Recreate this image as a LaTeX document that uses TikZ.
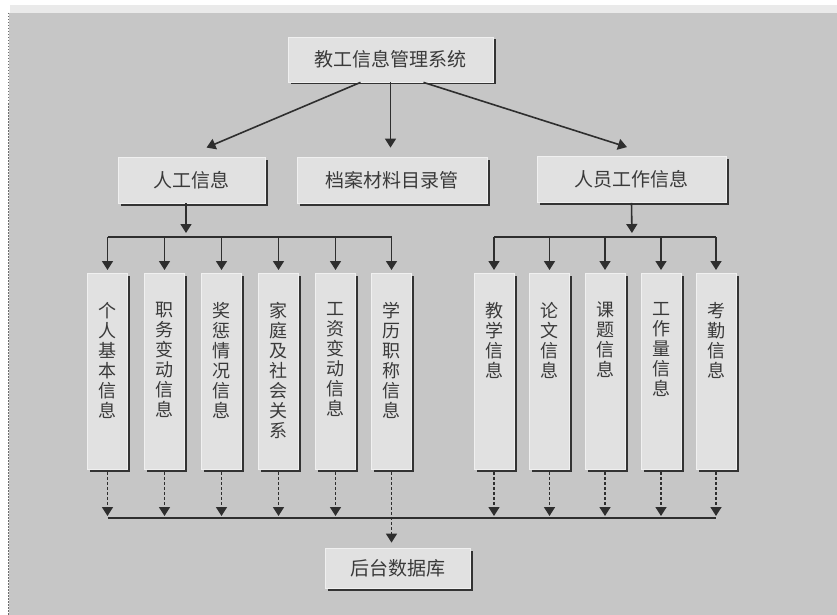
\documentclass[tikz,border=0pt]{standalone}
\usepackage{fontspec}
\setmainfont{Noto Sans CJK SC}
\usetikzlibrary{arrows.meta,shadows,calc}
\definecolor{bg}{HTML}{C6C6C6}
\definecolor{strip}{HTML}{EAEAEA}
\definecolor{boxfill}{HTML}{E1E1E1}
\definecolor{boxedge}{HTML}{F0F0F0}
\definecolor{shade}{HTML}{333333}
\definecolor{lin}{HTML}{2E2E2E}
\definecolor{txt}{HTML}{3A3A3A}
\begin{document}
\begin{tikzpicture}[x=1pt,y=-1pt,
  box/.style={draw=boxedge, line width=0.8pt, fill=boxfill, inner sep=0pt,
    general shadow={fill=shade, shadow xshift=2.5pt, shadow yshift=-2.5pt},
    text=txt, font=\fontsize{19}{20}\selectfont},
  hbox/.style={box, minimum height=45pt},
  vbox/.style={box, minimum width=40pt, minimum height=196pt, anchor=north},
  vlab/.style={anchor=north, yshift=-29pt, align=center, inner sep=0pt,
    font=\fontsize{18}{20}\selectfont, text=txt},
  arr/.style={line width=1.6pt, draw=lin, -{Triangle[width=11pt,length=9pt]}},
  dsh/.style={arr, dash pattern=on 3pt off 2pt},
  bus/.style={line width=1.6pt, draw=lin}]
\useasboundingbox (0,0) rectangle (837,615);
\fill[white] (0,0) rectangle (837,615);
\fill[strip] (10,5) rectangle (837,13);
\fill[bg] (9,13) rectangle (837,615);
\draw[lin!70, line width=1pt, dash pattern=on 1.5pt off 1.5pt] (8,13) -- (8,615);

% top row
\node[hbox, minimum width=205pt] (top) at (390.5,59.5) {教工信息管理系统};
% middle row
\node[hbox, minimum width=147pt, minimum height=46pt] (ren) at (191.5,180) {人工信息};
\node[hbox, minimum width=190pt, minimum height=46pt] (dang) at (392,180) {档案材料目录管};
\node[hbox, minimum width=189pt, minimum height=46pt] (ry) at (631.5,179.5) {人员工作信息};
% bottom
\node[hbox, minimum width=145pt, minimum height=40pt] (db) at (397.5,568) {后台数据库};

% left vertical boxes
\node[vbox, label={[vlab]north:{个\\人\\基\\本\\信\\息}}] (l1) at (107.5,273) {};
\node[vbox, label={[vlab]north:{职\\务\\变\\动\\信\\息}}] (l2) at (164.5,273) {};
\node[vbox, label={[vlab]north:{奖\\惩\\情\\况\\信\\息}}] (l3) at (221.5,273) {};
\node[vbox, label={[vlab]north:{家\\庭\\及\\社\\会\\关\\系}}] (l4) at (278.5,273) {};
\node[vbox, label={[vlab]north:{工\\资\\变\\动\\信\\息}}] (l5) at (335.5,273) {};
\node[vbox, label={[vlab]north:{学\\历\\职\\称\\信\\息}}] (l6) at (391.5,273) {};
% right vertical boxes
\node[vbox, label={[vlab]north:{教\\学\\信\\息}}] (r1) at (494,273) {};
\node[vbox, label={[vlab]north:{论\\文\\信\\息}}] (r2) at (549.5,273) {};
\node[vbox, label={[vlab]north:{课\\题\\信\\息}}] (r3) at (605,273) {};
\node[vbox, label={[vlab]north:{工\\作\\量\\信\\息}}] (r4) at (661,273) {};
\node[vbox, label={[vlab]north:{考\\勤\\信\\息}}] (r5) at (716,273) {};

% bus coordinates
\coordinate (lb) at (186,237);
\coordinate (rb) at (632,237);
\coordinate (bb) at (400,518);

% top arrows
\draw[arr] ([xshift=-30pt]top.south) -- ([xshift=15pt,yshift=9pt]ren.north);
\draw[arr, shorten >=9pt] (top.south) -- (top.south |- dang.north);
\draw[arr] ([xshift=33pt]top.south) -- ([xshift=-4.5pt,yshift=9pt]ry.north);

% left group
\draw[arr, shorten >=4pt] ([xshift=-5.5pt]ren.south) -- (lb);
\draw[bus] (l1.north |- lb) -- (l6.north |- lb);
\foreach \n in {l1,l2,l3,l4,l5,l6}
  \draw[arr, shorten >=3pt] (\n.north |- lb) -- (\n.north);
% right group
\draw[arr, shorten >=4pt] (ry.south) -- (rb);
\draw[bus] (r1.north |- rb) -- (r5.north |- rb);
\foreach \n in {r1,r2,r3,r4,r5}
  \draw[arr, shorten >=3pt] (\n.north |- rb) -- (\n.north);

% bottom
\foreach \n in {l1,l2,l3,l4,l5,r1,r2,r3,r4,r5}
  \draw[dsh, shorten >=2pt] ([yshift=-2pt]\n.south) -- (\n.south |- bb);
\draw[bus] (l1.south |- bb) -- (r5.south |- bb);
\draw[dsh, shorten >=5pt] ([yshift=-2pt]l6.south) -- (l6.south |- db.north);
\end{tikzpicture}
\end{document}
